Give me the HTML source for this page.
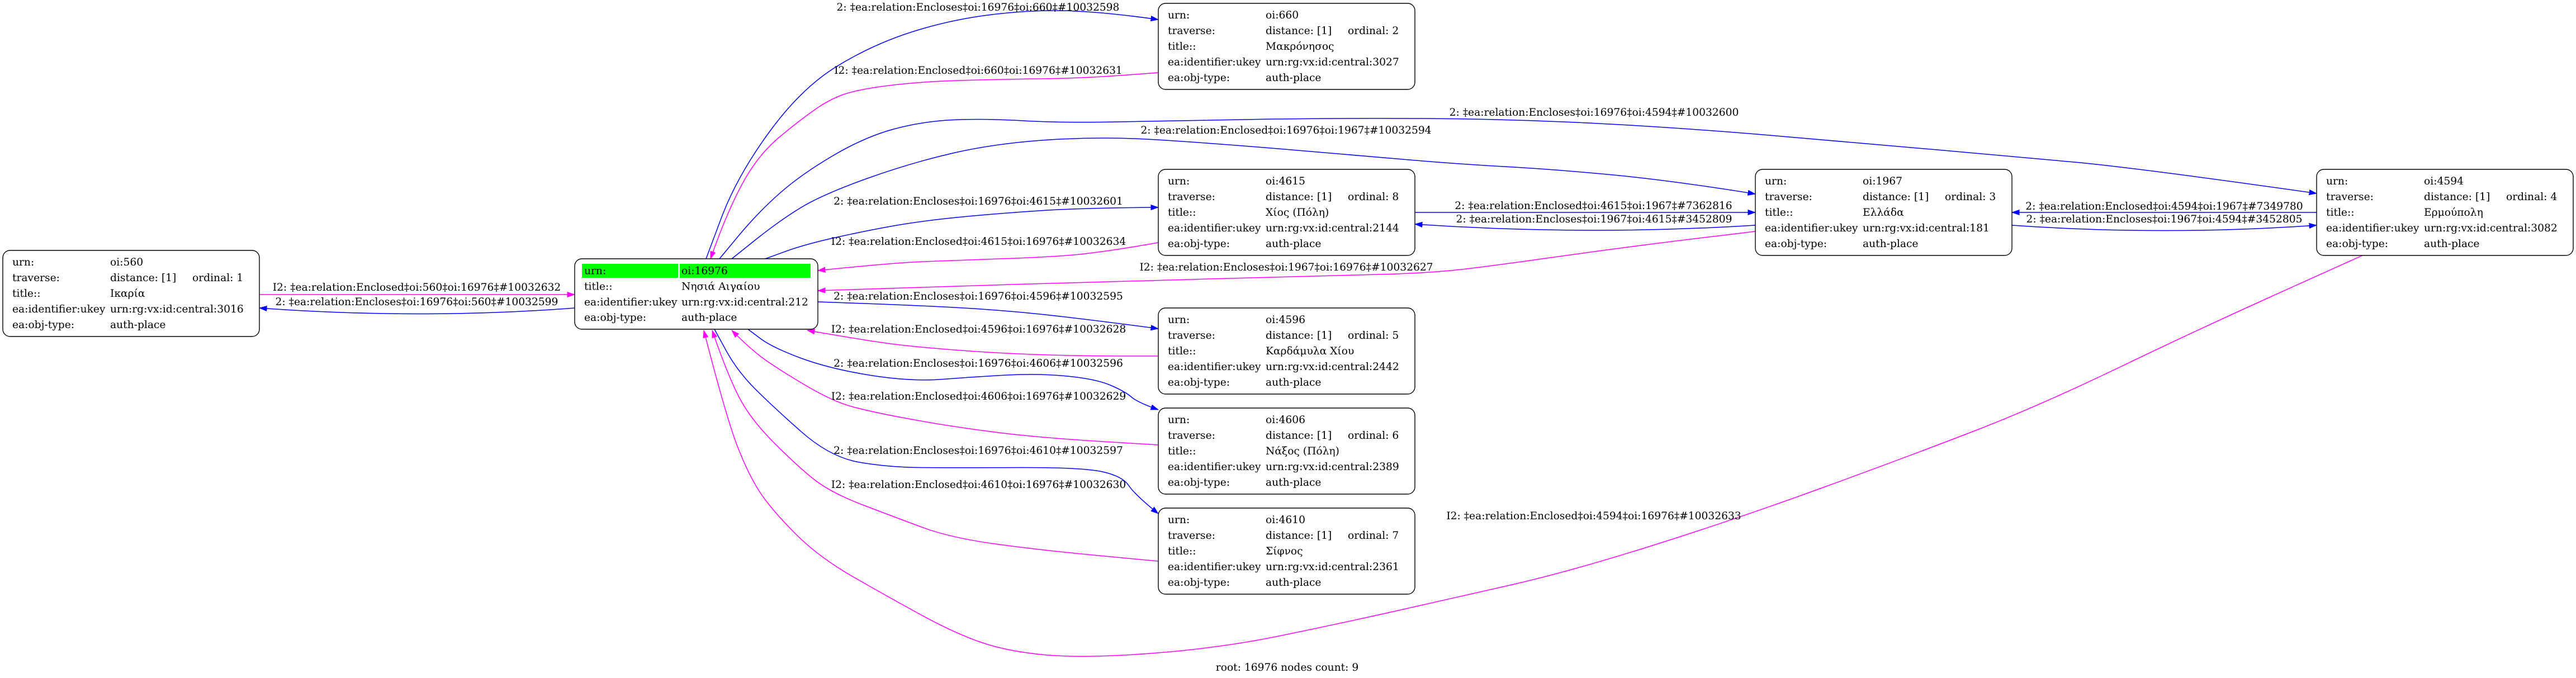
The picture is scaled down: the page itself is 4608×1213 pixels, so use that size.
<!DOCTYPE html>
<html>
<head>
<meta charset="utf-8">
<style>
  html, body { margin:0; padding:0; background:#ffffff; }
  body { width:4608px; height:1213px; overflow:hidden; }
  svg { display:block; }
  text { font-family: "DejaVu Serif", "Liberation Serif", "Noto Serif CJK SC", serif; font-size:18.67px; fill:#000; }
  .nb { fill:#fff; stroke:#000; stroke-width:1.4; }
  .eb { fill:none; stroke:#0000ff; stroke-width:1.5; }
  .em { fill:none; stroke:#ff00ff; stroke-width:1.5; }
  .lab { text-anchor:middle; }
</style>
</head>
<body>
<svg width="4608" height="1213" viewBox="0 0 4608 1213" xmlns="http://www.w3.org/2000/svg">
<defs>
  <marker id="ab" markerWidth="14" markerHeight="10" viewBox="0 0 14 10" refX="13.5" refY="5" orient="auto" markerUnits="userSpaceOnUse">
    <path d="M0,0.3 L13.5,5 L0,9.7 z" fill="#0000ff" stroke="#0000ff" stroke-width="0.8"/>
  </marker>
  <marker id="am" markerWidth="14" markerHeight="10" viewBox="0 0 14 10" refX="13.5" refY="5" orient="auto" markerUnits="userSpaceOnUse">
    <path d="M0,0.3 L13.5,5 L0,9.7 z" fill="#ff00ff" stroke="#ff00ff" stroke-width="0.8"/>
  </marker>
</defs>
<rect x="0" y="0" width="4608" height="1213" fill="#fff"/>

<!-- ================= EDGES ================= -->
<!-- A: 16976 -> 660 -->
<path class="eb" marker-end="url(#ab)" d="M1263,463 L1290.5,389.5 Q1318,316 1375.5,237 Q1433,158 1496.5,119 Q1560,80 1630,57.5 Q1700,35 1775,26 Q1850,17 1915,19.5 Q1980,22 2072,35"/>
<!-- B: 660 -> 16976 -->
<path class="em" marker-end="url(#am)" d="M2072,130 L2004,135 Q1936,140 1858,141 Q1780,142 1715,144 Q1650,146 1598.5,152 Q1547,158 1518.5,166 Q1490,174 1461.5,193.5 Q1433,213 1394.5,245 Q1356,277 1328,328.5 Q1300,380 1271,463"/>
<!-- C: 16976 -> 4594 -->
<path class="eb" marker-end="url(#ab)" d="M1287,463 L1321.5,421.5 Q1356,380 1394.5,346 Q1433,312 1490,278.5 Q1547,245 1598.5,231 Q1650,217 1705,214.5 Q1760,212 1830,216 Q1900,220 2000,218 Q2100,216 2250,213.5 Q2400,211 2550,212 Q2700,213 2850,220.5 Q3000,228 3171,242.5 Q3342,257 3471,268.5 Q3600,280 3710,290 Q3820,300 4144,346"/>
<!-- D: 16976 -> 1967 -->
<path class="eb" marker-end="url(#ab)" d="M1309,463 L1351.5,429 Q1394,395 1432.5,371.5 Q1471,348 1550.5,319.5 Q1630,291 1706.5,273.5 Q1783,256 1878.5,250 Q1974,244 2069.5,250 Q2165,256 2280,265.5 Q2395,275 2497.5,284 Q2600,293 2690.5,298 Q2781,303 2886,313 Q2991,323 3140,347"/>
<!-- E: 16976 -> 4615 -->
<path class="eb" marker-end="url(#ab)" d="M1369,463 L1404.5,450 Q1440,437 1496.5,424.5 Q1553,412 1601.5,403.5 Q1650,395 1716.5,388.5 Q1783,382 1859.5,377 Q1936,372 2072,371"/>
<!-- F: 4615 -> 16976 -->
<path class="em" marker-end="url(#am)" d="M2072,434 L2031,441 Q1990,448 1945,453.5 Q1900,459 1803,462.5 Q1706,466 1653,468 Q1600,470 1463,484"/>
<!-- G: 1967 -> 16976 -->
<path class="em" marker-end="url(#am)" d="M3140,414 L3065,423 Q2990,432 2920.5,441 Q2851,450 2780.5,460 Q2710,470 2640,479 Q2570,488 2485,490.5 Q2400,493 2200,498 Q2000,503 1825,508.5 Q1650,514 1463,520"/>
<!-- H: 16976 -> 4596 -->
<path class="eb" marker-end="url(#ab)" d="M1463,540 L1546,543 Q1630,546 1706,550 Q1783,554 1860,562 Q1936,570 2072,588"/>
<!-- I: 4596 -> 16976 -->
<path class="em" marker-end="url(#am)" d="M2072,637 L2004,637 Q1936,637 1859.5,634.5 Q1783,632 1706.5,626 Q1630,620 1589,614.5 Q1548,609 1444,591"/>
<!-- J: 16976 -> 4606 -->
<path class="eb" marker-end="url(#ab)" d="M1338,589 L1360,605.5 Q1382,622 1433.5,641 Q1485,660 1557.5,671.5 Q1630,683 1687,678.5 Q1744,674 1801.5,671 Q1859,668 1909.5,673 Q1960,678 1986,689 Q2012,700 2023.5,710 Q2035,720 2072,733"/>
<!-- K: 4606 -> 16976 -->
<path class="em" marker-end="url(#am)" d="M2072,796 L1965.5,789.5 Q1859,783 1782.5,773.5 Q1706,764 1629.5,750 Q1553,736 1519,726 Q1485,716 1433.5,685 Q1382,654 1361,638 Q1340,622 1309,591"/>
<!-- L: 16976 -> 4610 -->
<path class="eb" marker-end="url(#ab)" d="M1278,589 L1298.5,626.5 Q1319,664 1350.5,695.5 Q1382,727 1433.5,772.5 Q1485,818 1537,827 Q1589,836 1647.5,836.5 Q1706,837 1821,836.5 Q1936,836 1972,844 Q2008,852 2019,868.5 Q2030,885 2072,919"/>
<!-- M: 4610 -> 16976 -->
<path class="em" marker-end="url(#am)" d="M2072,1004 L1965.5,994 Q1859,984 1779.5,973 Q1700,962 1650,943.5 Q1600,925 1542.5,903 Q1485,881 1454,856 Q1423,831 1381.5,789 Q1340,747 1319.5,705.5 Q1299,664 1274,591"/>
<!-- N: 4594 -> 16976 -->
<path class="em" marker-end="url(#am)" d="M4226,457 L4080.5,522.5 Q3935,588 3791.5,657 Q3648,726 3533,770.5 Q3418,815 3263,871.5 Q3108,928 2959,975 Q2810,1022 2705,1046 Q2600,1070 2497.5,1093 Q2395,1116 2287.5,1138 Q2180,1160 2058,1169 Q1936,1178 1868,1171.5 Q1800,1165 1753,1148.5 Q1706,1132 1647.5,1100 Q1589,1068 1527,1032.5 Q1465,997 1423.5,955.5 Q1382,914 1361,883 Q1340,852 1319.5,799.5 Q1299,747 1259,591"/>
<!-- O: 560 -> 16976 -->
<path class="em" marker-end="url(#am)" d="M464,527 L1028,527"/>
<!-- P: 16976 -> 560 -->
<path class="eb" marker-end="url(#ab)" d="M1028,551 Q751,572 464,551"/>
<!-- Q: 4615 -> 1967 -->
<path class="eb" marker-end="url(#ab)" d="M2531,380 L3140,380"/>
<!-- R: 1967 -> 4615 -->
<path class="eb" marker-end="url(#ab)" d="M3140,403 Q2836,422 2531,401"/>
<!-- S: 4594 -> 1967 -->
<path class="eb" marker-end="url(#ab)" d="M4144,380 L3599,380"/>
<!-- T: 1967 -> 4594 -->
<path class="eb" marker-end="url(#ab)" d="M3599,403 Q3872,422 4144,403"/>

<!-- ================= EDGE LABELS ================= -->
<text class="lab" x="1749.5" y="19">2: ‡ea:relation:Encloses‡oi:16976‡oi:660‡#10032598</text>
<text class="lab" x="1750" y="132">I2: ‡ea:relation:Enclosed‡oi:660‡oi:16976‡#10032631</text>
<text class="lab" x="2851.5" y="207">2: ‡ea:relation:Encloses‡oi:16976‡oi:4594‡#10032600</text>
<text class="lab" x="2300.5" y="239">2: ‡ea:relation:Enclosed‡oi:16976‡oi:1967‡#10032594</text>
<text class="lab" x="1750" y="366">2: ‡ea:relation:Encloses‡oi:16976‡oi:4615‡#10032601</text>
<text class="lab" x="2850.5" y="374">2: ‡ea:relation:Enclosed‡oi:4615‡oi:1967‡#7362816</text>
<text class="lab" x="2851.5" y="398">2: ‡ea:relation:Encloses‡oi:1967‡oi:4615‡#3452809</text>
<text class="lab" x="3871.5" y="375">2: ‡ea:relation:Enclosed‡oi:4594‡oi:1967‡#7349780</text>
<text class="lab" x="3871.5" y="398">2: ‡ea:relation:Encloses‡oi:1967‡oi:4594‡#3452805</text>
<text class="lab" x="1750.5" y="438">I2: ‡ea:relation:Enclosed‡oi:4615‡oi:16976‡#10032634</text>
<text class="lab" x="2301" y="484">I2: ‡ea:relation:Encloses‡oi:1967‡oi:16976‡#10032627</text>
<text class="lab" x="1750" y="536">2: ‡ea:relation:Encloses‡oi:16976‡oi:4596‡#10032595</text>
<text class="lab" x="1750.5" y="595">I2: ‡ea:relation:Enclosed‡oi:4596‡oi:16976‡#10032628</text>
<text class="lab" x="1750" y="656">2: ‡ea:relation:Encloses‡oi:16976‡oi:4606‡#10032596</text>
<text class="lab" x="1750.5" y="715">I2: ‡ea:relation:Enclosed‡oi:4606‡oi:16976‡#10032629</text>
<text class="lab" x="1750" y="812">2: ‡ea:relation:Encloses‡oi:16976‡oi:4610‡#10032597</text>
<text class="lab" x="1750.5" y="873">I2: ‡ea:relation:Enclosed‡oi:4610‡oi:16976‡#10032630</text>
<text class="lab" x="2851" y="929">I2: ‡ea:relation:Enclosed‡oi:4594‡oi:16976‡#10032633</text>
<text class="lab" x="745.5" y="520">I2: ‡ea:relation:Enclosed‡oi:560‡oi:16976‡#10032632</text>
<text class="lab" x="745.5" y="546">2: ‡ea:relation:Encloses‡oi:16976‡oi:560‡#10032599</text>
<text class="lab" x="2302.5" y="1200">root: 16976 nodes count: 9</text>

<!-- ================= NODES ================= -->
<!-- oi:560 -->
<g transform="translate(5,448)">
  <rect class="nb" x="0" y="0" width="459" height="154" rx="13" ry="13"/>
  <text x="17" y="27">urn:</text><text x="192" y="27">oi:560</text>
  <text x="17" y="55">traverse:</text><text x="192" y="55">distance: [1]</text><text x="339" y="55">ordinal: 1</text>
  <text x="17" y="83">title::</text><text x="192" y="83">Ικαρία</text>
  <text x="17" y="111">ea:identifier:ukey</text><text x="192" y="111">urn:rg:vx:id:central:3016</text>
  <text x="17" y="139">ea:obj-type:</text><text x="192" y="139">auth-place</text>
</g>

<!-- oi:16976 (root) -->
<g transform="translate(1028,463)">
  <rect class="nb" x="0" y="0" width="435" height="126" rx="13" ry="13"/>
  <rect x="13" y="9" width="172" height="25" fill="#00ff00"/>
  <rect x="188" y="9" width="234" height="25" fill="#00ff00"/>
  <text x="17" y="27.5">urn:</text><text x="191" y="27.5">oi:16976</text>
  <text x="17" y="55.5">title::</text><text x="191" y="55.5">Νησιά Αιγαίου</text>
  <text x="17" y="83.5">ea:identifier:ukey</text><text x="191" y="83.5">urn:rg:vx:id:central:212</text>
  <text x="17" y="111">ea:obj-type:</text><text x="191" y="111">auth-place</text>
</g>

<!-- oi:660 -->
<g transform="translate(2072,6)">
  <rect class="nb" x="0" y="0" width="459" height="154" rx="13" ry="13"/>
  <text x="17" y="27">urn:</text><text x="192" y="27">oi:660</text>
  <text x="17" y="55">traverse:</text><text x="192" y="55">distance: [1]</text><text x="339" y="55">ordinal: 2</text>
  <text x="17" y="83">title::</text><text x="192" y="83">Μακρόνησος</text>
  <text x="17" y="111">ea:identifier:ukey</text><text x="192" y="111">urn:rg:vx:id:central:3027</text>
  <text x="17" y="139">ea:obj-type:</text><text x="192" y="139">auth-place</text>
</g>

<!-- oi:4615 -->
<g transform="translate(2072,303)">
  <rect class="nb" x="0" y="0" width="459" height="154" rx="13" ry="13"/>
  <text x="17" y="27">urn:</text><text x="192" y="27">oi:4615</text>
  <text x="17" y="55">traverse:</text><text x="192" y="55">distance: [1]</text><text x="339" y="55">ordinal: 8</text>
  <text x="17" y="83">title::</text><text x="192" y="83">Χίος (Πόλη)</text>
  <text x="17" y="111">ea:identifier:ukey</text><text x="192" y="111">urn:rg:vx:id:central:2144</text>
  <text x="17" y="139">ea:obj-type:</text><text x="192" y="139">auth-place</text>
</g>

<!-- oi:1967 -->
<g transform="translate(3140,303)">
  <rect class="nb" x="0" y="0" width="459" height="154" rx="13" ry="13"/>
  <text x="17" y="27">urn:</text><text x="192" y="27">oi:1967</text>
  <text x="17" y="55">traverse:</text><text x="192" y="55">distance: [1]</text><text x="339" y="55">ordinal: 3</text>
  <text x="17" y="83">title::</text><text x="192" y="83">Ελλάδα</text>
  <text x="17" y="111">ea:identifier:ukey</text><text x="192" y="111">urn:rg:vx:id:central:181</text>
  <text x="17" y="139">ea:obj-type:</text><text x="192" y="139">auth-place</text>
</g>

<!-- oi:4594 -->
<g transform="translate(4144,303)">
  <rect class="nb" x="0" y="0" width="459" height="154" rx="13" ry="13"/>
  <text x="17" y="27">urn:</text><text x="192" y="27">oi:4594</text>
  <text x="17" y="55">traverse:</text><text x="192" y="55">distance: [1]</text><text x="339" y="55">ordinal: 4</text>
  <text x="17" y="83">title::</text><text x="192" y="83">Ερμούπολη</text>
  <text x="17" y="111">ea:identifier:ukey</text><text x="192" y="111">urn:rg:vx:id:central:3082</text>
  <text x="17" y="139">ea:obj-type:</text><text x="192" y="139">auth-place</text>
</g>

<!-- oi:4596 -->
<g transform="translate(2072,551)">
  <rect class="nb" x="0" y="0" width="459" height="154" rx="13" ry="13"/>
  <text x="17" y="27">urn:</text><text x="192" y="27">oi:4596</text>
  <text x="17" y="55">traverse:</text><text x="192" y="55">distance: [1]</text><text x="339" y="55">ordinal: 5</text>
  <text x="17" y="83">title::</text><text x="192" y="83">Καρδάμυλα Χίου</text>
  <text x="17" y="111">ea:identifier:ukey</text><text x="192" y="111">urn:rg:vx:id:central:2442</text>
  <text x="17" y="139">ea:obj-type:</text><text x="192" y="139">auth-place</text>
</g>

<!-- oi:4606 -->
<g transform="translate(2072,730)">
  <rect class="nb" x="0" y="0" width="459" height="154" rx="13" ry="13"/>
  <text x="17" y="27">urn:</text><text x="192" y="27">oi:4606</text>
  <text x="17" y="55">traverse:</text><text x="192" y="55">distance: [1]</text><text x="339" y="55">ordinal: 6</text>
  <text x="17" y="83">title::</text><text x="192" y="83">Νάξος (Πόλη)</text>
  <text x="17" y="111">ea:identifier:ukey</text><text x="192" y="111">urn:rg:vx:id:central:2389</text>
  <text x="17" y="139">ea:obj-type:</text><text x="192" y="139">auth-place</text>
</g>

<!-- oi:4610 -->
<g transform="translate(2072,909)">
  <rect class="nb" x="0" y="0" width="459" height="154" rx="13" ry="13"/>
  <text x="17" y="27">urn:</text><text x="192" y="27">oi:4610</text>
  <text x="17" y="55">traverse:</text><text x="192" y="55">distance: [1]</text><text x="339" y="55">ordinal: 7</text>
  <text x="17" y="83">title::</text><text x="192" y="83">Σίφνος</text>
  <text x="17" y="111">ea:identifier:ukey</text><text x="192" y="111">urn:rg:vx:id:central:2361</text>
  <text x="17" y="139">ea:obj-type:</text><text x="192" y="139">auth-place</text>
</g>
</svg>
</body>
</html>
